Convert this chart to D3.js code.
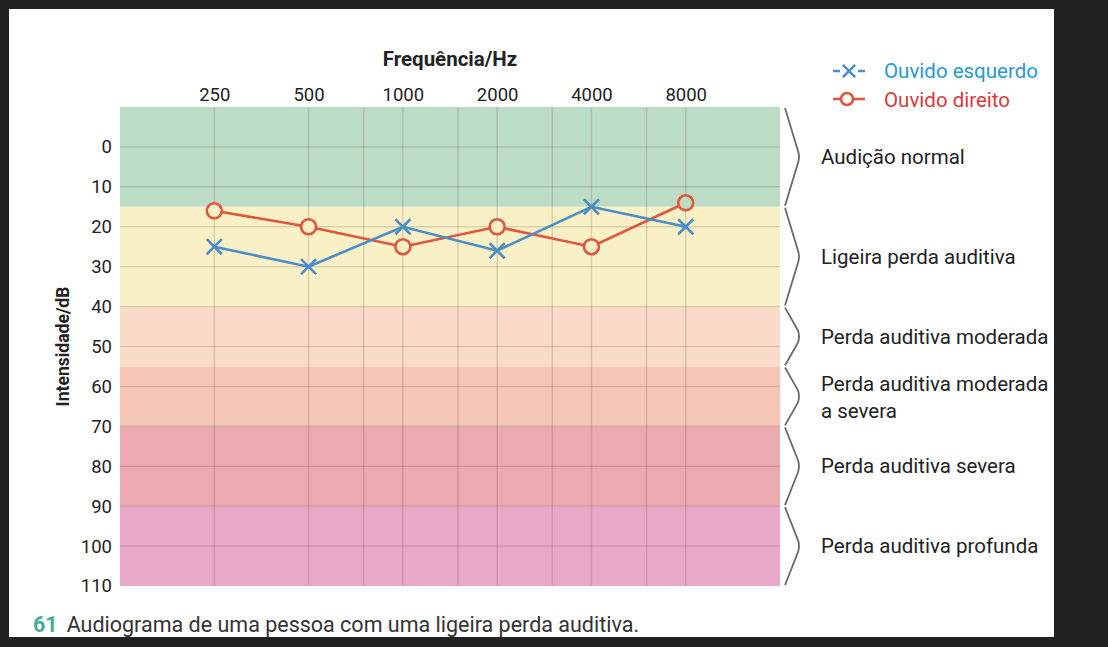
<!DOCTYPE html>
<html>
<head>
<meta charset="utf-8">
<script src="https://cdn.jsdelivr.net/npm/d3@7"></script>
<style>
  body { margin: 0; background: #222; }
  svg { display: block; font-family: Roboto, "Noto Sans", sans-serif; }
</style>
</head>
<body>
<svg width="1108" height="647"></svg>
<script>
// data
const frequencies = [250, 500, 1000, 2000, 4000, 8000];
const gridFreqs = [250, 500, 750, 1000, 1500, 2000, 3000, 4000, 6000, 8000];
const dbTicks = [0, 10, 20, 30, 40, 50, 60, 70, 80, 90, 100, 110];
const leftEar = [25, 30, 20, 26, 15, 20];   // Ouvido esquerdo (x)
const rightEar = [16, 20, 25, 20, 25, 14];  // Ouvido direito (o)

const zoneStarts = [-10, 15, 40, 55, 70, 90];
const zoneEnds = [15, 40, 55, 70, 90, 110];
const zoneColors = ['#bddcc5', '#f9f1c5', '#f9dcc8', '#f5c5b6', '#eba9b0', '#eaa8c9'];
const zoneLabels = [
  ['Audição normal'],
  ['Ligeira perda auditiva'],
  ['Perda auditiva moderada'],
  ['Perda auditiva moderada', 'a severa'],
  ['Perda auditiva severa'],
  ['Perda auditiva profunda']
];

const svg = d3.select('svg');

// white page
svg.append('rect')
    .attr('x', 9).attr('y', 9)
    .attr('width', 1045).attr('height', 628)
    .attr('fill', '#fff');

const x = d3.scaleLog().base(2)
    .domain([125, 16000])
    .range([120, 780]);

const y = d3.scaleLinear()
    .domain([-10, 110])
    .range([107, 586]);

// colour bands
svg.append('g').selectAll('rect')
  .data(zoneStarts)
  .join('rect')
    .attr('x', x(125))
    .attr('y', d => y(d))
    .attr('width', x(16000) - x(125))
    .attr('height', (d, i) => y(zoneEnds[i]) - y(d))
    .attr('fill', (d, i) => zoneColors[i]);

// grid
const grid = svg.append('g')
    .attr('stroke', 'rgba(110,90,80,0.22)')
    .attr('stroke-width', 1.5);

grid.selectAll('.v')
  .data(gridFreqs)
  .join('line')
    .attr('x1', d => x(d)).attr('x2', d => x(d))
    .attr('y1', y(-10)).attr('y2', y(110));

grid.selectAll('.h')
  .data(dbTicks.slice(0, -1))
  .join('line')
    .attr('x1', x(125)).attr('x2', x(16000))
    .attr('y1', d => y(d)).attr('y2', d => y(d));

// axes
const yAxis = svg.append('g')
    .attr('transform', 'translate(112,0)')
    .call(d3.axisLeft(y).tickValues(dbTicks).tickSize(0).tickPadding(0));
yAxis.select('.domain').remove();
yAxis.selectAll('text')
    .attr('font-size', 18.5)
    .attr('font-family', 'Roboto')
    .attr('fill', '#222');

const xAxis = svg.append('g')
    .attr('transform', 'translate(0,101)')
    .call(d3.axisTop(x).tickValues(frequencies).tickFormat(d3.format('d')).tickSize(0).tickPadding(0));
xAxis.select('.domain').remove();
xAxis.selectAll('text')
    .attr('font-size', 18.5)
    .attr('font-family', 'Roboto')
    .attr('fill', '#222');

svg.append('text')
    .attr('x', 450)
    .attr('y', 66)
    .attr('text-anchor', 'middle')
    .attr('font-size', 20.5)
    .attr('font-weight', 'bold')
    .attr('fill', '#222')
    .text('Frequência/Hz');

svg.append('text')
    .attr('transform', `translate(69,${(y(-10) + y(110)) / 2}) rotate(-90)`)
    .attr('text-anchor', 'middle')
    .attr('font-size', 17.5)
    .attr('font-weight', 'bold')
    .attr('fill', '#222')
    .text('Intensidade/dB');

// series
const blue = '#4a8dc9';
const red = '#e0553d';

function bandColor(v) {
  const i = zoneStarts.findIndex((s, k) => v >= s && v < zoneEnds[k]);
  return zoneColors[i];
}

const line = d3.line()
    .x((d, i) => x(frequencies[i]))
    .y(d => y(d));

svg.append('path')
    .datum(rightEar)
    .attr('d', line)
    .attr('fill', 'none')
    .attr('stroke', red)
    .attr('stroke-width', 2.6);

svg.append('path')
    .datum(leftEar)
    .attr('d', line)
    .attr('fill', 'none')
    .attr('stroke', blue)
    .attr('stroke-width', 2.6);

svg.append('g').selectAll('circle')
  .data(rightEar)
  .join('circle')
    .attr('cx', (d, i) => x(frequencies[i]))
    .attr('cy', d => y(d))
    .attr('r', 7.5)
    .attr('fill', d => bandColor(d))
    .attr('stroke', red)
    .attr('stroke-width', 2.6);

const cross = d3.symbol().type(d3.symbolX).size(150);
svg.append('g').selectAll('path')
  .data(leftEar)
  .join('path')
    .attr('transform', (d, i) => `translate(${x(frequencies[i])},${y(d)})`)
    .attr('d', cross)
    .attr('fill', 'none')
    .attr('stroke', blue)
    .attr('stroke-width', 2.6);

// legend
const legend = svg.append('g').attr('font-size', 20.5);
legend.append('line').attr('x1', 833).attr('x2', 865).attr('y1', 71).attr('y2', 71)
    .attr('stroke', blue).attr('stroke-width', 2.6).attr('stroke-dasharray', '7,18,7');
legend.append('path').attr('transform', 'translate(849,71)')
    .attr('d', d3.symbol().type(d3.symbolX).size(100))
    .attr('fill', 'none').attr('stroke', blue).attr('stroke-width', 2.6);
legend.append('text').attr('x', 884).attr('y', 78).attr('fill', '#2a98d6').text('Ouvido esquerdo');

legend.append('line').attr('x1', 833).attr('x2', 865).attr('y1', 99).attr('y2', 99)
    .attr('stroke', red).attr('stroke-width', 2.6);
legend.append('circle').attr('cx', 847).attr('cy', 99).attr('r', 6)
    .attr('fill', '#fff').attr('stroke', red).attr('stroke-width', 2.6);
legend.append('text').attr('x', 884).attr('y', 107).attr('fill', '#d8393f').text('Ouvido direito');

// braces
const braceX0 = 785, braceX1 = 800;
const braces = svg.append('g')
    .attr('fill', 'none')
    .attr('stroke', '#6a6a6a')
    .attr('stroke-width', 1.8)
    .attr('stroke-linejoin', 'round');

braces.selectAll('path')
  .data(zoneStarts)
  .join('path')
    .attr('d', (d, i) => {
      const y0 = y(d) + 1, y1 = y(zoneEnds[i]) - 1, ym = (y0 + y1) / 2;
      return `M${braceX0},${y0} L${braceX1 - 2},${ym - 6} Q${braceX1},${ym} ${braceX1 - 2},${ym + 6} L${braceX0},${y1}`;
    });

// zone labels
const labels = svg.append('g')
    .attr('font-size', 20.5)
    .attr('fill', '#222');

labels.selectAll('text')
  .data(zoneLabels)
  .join('text')
    .attr('x', 821)
    .attr('y', (d, i) => {
      const mid = (y(zoneStarts[i]) + y(zoneEnds[i])) / 2;
      return mid + 7 - (d.length - 1) * 12;
    })
    .each(function (d) {
      d3.select(this).selectAll('tspan')
        .data(d)
        .join('tspan')
          .attr('x', 821)
          .attr('dy', (t, k) => k === 0 ? 0 : 27)
          .text(t => t);
    });

// caption
const caption = svg.append('text')
    .attr('x', 33)
    .attr('y', 632)
    .attr('font-size', 21.5);
caption.append('tspan')
    .attr('font-weight', 'bold')
    .attr('fill', '#45ad98')
    .text('61');
caption.append('tspan')
    .attr('dx', 9)
    .attr('fill', '#333')
    .text('Audiograma de uma pessoa com uma ligeira perda auditiva.');
</script>
</body>
</html>
